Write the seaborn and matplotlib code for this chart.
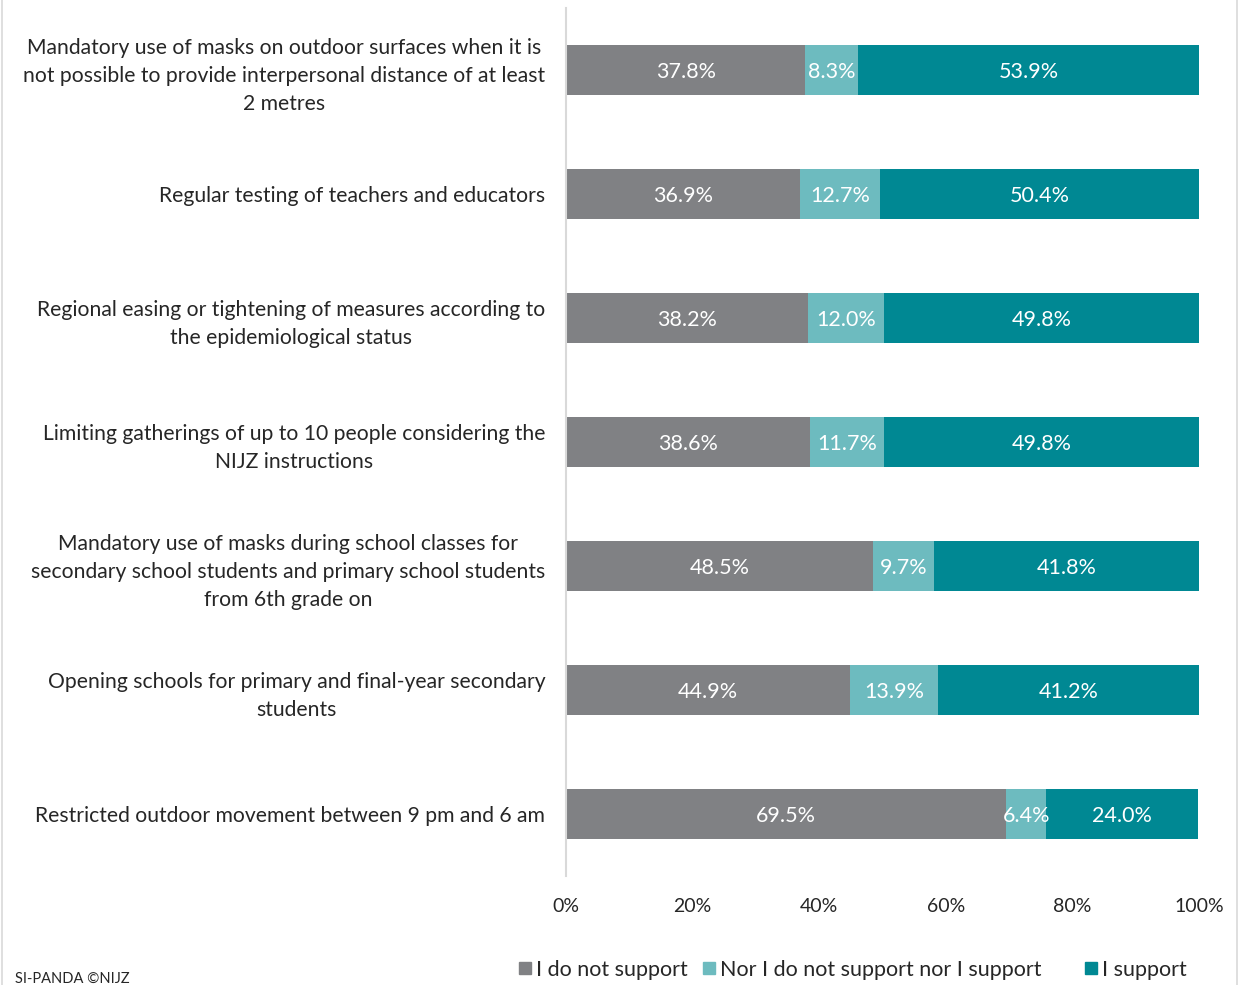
import matplotlib
matplotlib.use("Agg")
import matplotlib.pyplot as plt
import matplotlib.lines as mlines
import seaborn as sns
import pandas as pd
import numpy as np

categories = [
    "Mandatory use of masks on outdoor surfaces when it is\nnot possible to provide interpersonal distance of at least\n2 metres",
    "Regular testing of teachers and educators",
    "Regional easing or tightening of measures according to\nthe epidemiological status",
    "Limiting gatherings of up to 10 people considering the\nNIJZ instructions",
    "Mandatory use of masks during school classes for\nsecondary school students and primary school students\nfrom 6th grade on",
    "Opening schools for primary and final-year secondary\nstudents",
    "Restricted outdoor movement between 9 pm and 6 am",
]
do_not_support = [37.8, 36.9, 38.2, 38.6, 48.5, 44.9, 69.5]
neutral = [8.3, 12.7, 12.0, 11.7, 9.7, 13.9, 6.4]
support = [53.9, 50.4, 49.8, 49.8, 41.8, 41.2, 24.0]

series_names = ["I do not support", "Nor I do not support nor I support", "I support"]
colors = ["#808184", "#6DBBBF", "#008893"]
x_ticks = [0, 20, 40, 60, 80, 100]

sns.set_theme(style="white")
plt.rcParams["font.family"] = ["Lato", "DejaVu Sans"]

df = pd.DataFrame({
    "category": categories,
    series_names[0]: do_not_support,
    series_names[1]: neutral,
    series_names[2]: support,
})
cum1 = df[series_names[0]]
cum2 = cum1 + df[series_names[1]]
cum3 = cum2 + df[series_names[2]]

fig = plt.figure(figsize=(12.39, 9.85), dpi=100)
ax = fig.add_axes([566 / 1239, 1 - 876 / 985, (1199 - 566) / 1239, 868 / 985])

# stacked bars: draw cumulative totals back to front
for cum, col in zip([cum3, cum2, cum1], colors[::-1]):
    sns.barplot(x=cum, y=df["category"], orient="h", color=col, width=0.4,
                saturation=1, ax=ax, edgecolor="none", linewidth=0)

# value labels centred in each segment
starts = [np.zeros(len(df)), cum1.values, cum2.values]
for vals, st in zip([do_not_support, neutral, support], starts):
    for i, (v, s) in enumerate(zip(vals, st)):
        ax.text(s + v / 2, i, f"{v:.1f}%", ha="center", va="center_baseline",
                color="white", fontsize=15.5)

ax.set_xlim(0, 100)
ax.set_ylim(len(df) - 0.5, -0.5)
ax.set_xticks(x_ticks)
ax.set_xticklabels([f"{t}%" for t in x_ticks], fontsize=14)
ax.tick_params(axis="x", length=0, pad=16)
ax.tick_params(axis="y", length=0, pad=15)
ax.set_yticks(range(len(df)))
ax.set_yticklabels(categories, fontsize=15.2, ha="right", multialignment="center",
                   linespacing=1.5)
ax.set_xlabel("")
ax.set_ylabel("")
for side in ["top", "right", "bottom"]:
    ax.spines[side].set_visible(False)
ax.spines["left"].set_color("#d9d9d9")
ax.spines["left"].set_linewidth(1.5)

# legend entries placed individually along the bottom
legend_x = [514 / 1239, 698 / 1239, 1080 / 1239]
for name, col, lx in zip(series_names, colors, legend_x):
    h = mlines.Line2D([], [], marker="s", linestyle="none", markersize=8,
                      markerfacecolor=col, markeredgecolor=col)
    fig.legend([h], [name], loc="center left", bbox_to_anchor=(lx, 1 - 970 / 985),
               frameon=False, fontsize=15.5, handletextpad=0.0, handlelength=1.0,
               borderpad=0, borderaxespad=0)

fig.text(15 / 1239, 1 - 979 / 985, "SI-PANDA ©NIJZ", fontsize=10.5, va="center", ha="left")

# thin frame edges of the chart area
fig.add_artist(mlines.Line2D([1.5 / 1239, 1.5 / 1239], [0, 1], color="#d9d9d9", lw=1.2))
fig.add_artist(mlines.Line2D([1236.5 / 1239, 1236.5 / 1239], [0, 1], color="#d9d9d9", lw=1.2))

fig.savefig("out.png", dpi=100)
